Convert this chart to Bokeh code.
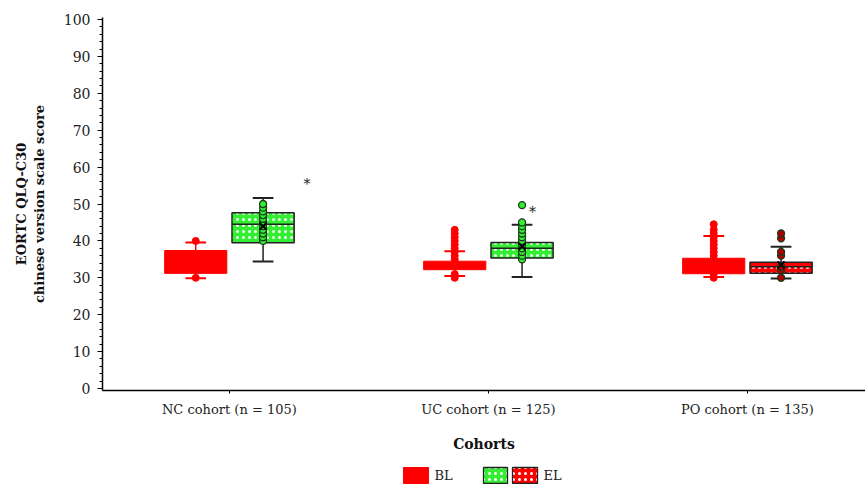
from bokeh.plotting import figure
from bokeh.models import ColumnDataSource, Range1d, FixedTicker
from bokeh.layouts import column
from bokeh.embed import file_html
from bokeh.resources import INLINE
from bokeh.core.properties import value

# ---------------- data ----------------
cohorts = ["NC cohort (n = 105)", "UC cohort (n = 125)", "PO cohort (n = 135)"]
cohort_pos = [1, 2, 3]

bl_low = [29.9, 30.5, 30.2]
bl_q1 = [31.2, 32.2, 31.1]
bl_med = [35.0, 33.5, 33.5]
bl_q3 = [37.4, 34.5, 35.3]
bl_high = [39.6, 37.2, 41.3]

el_low = [34.4, 30.2, 29.8]
el_q1 = [39.5, 35.4, 31.2]
el_med = [44.5, 38.0, 33.0]
el_q3 = [47.6, 39.6, 34.2]
el_high = [51.6, 44.4, 38.4]
el_mean = [44.0, 38.5, 33.5]

bl_points = [
    [30, 40],
    [30, 31, 35, 36, 37, 38, 39, 40, 41, 42, 43],
    [30, 31, 36, 37, 38, 39, 40, 41, 42, 43, 44.5],
]
el_points = [
    [40, 41, 42, 43, 44, 45, 46, 47, 48, 49, 50],
    [35, 36, 37, 38, 39, 40, 41, 42, 43, 44, 45, 49.7],
    [30, 32, 33, 36, 37, 40.7, 42],
]
sig_x = [1.30, 2.17]
sig_y = [55.3, 47.7]

y_ticks = list(range(0, 101, 10))
y_minor = list(range(0, 101, 2))

# ---------------- styles ----------------
RED = "#ff0000"
GREEN = "#33ee33"
FONT = "DejaVu Serif"
BOX_W = 0.24
OFF = 0.13
CAP_W = 0.08

p = figure(width=865, height=464, output_backend="svg", toolbar_location=None,
           x_range=Range1d(0.51, 3.456), y_range=Range1d(-0.54, 100.54),
           min_border_left=102, min_border_right=0, min_border_top=17, min_border_bottom=74)
p.outline_line_color = None
p.xgrid.visible = False
p.ygrid.visible = False

bl_x = [c - OFF for c in cohort_pos]
el_x = [c + OFF for c in cohort_pos]

# BL boxes (red)
src_bl = ColumnDataSource(dict(x=bl_x, lo=bl_low, q1=bl_q1, med=bl_med, q3=bl_q3, hi=bl_high))
p.segment(x0="x", y0="lo", x1="x", y1="hi", source=src_bl, line_color=RED, line_width=1.5)
p.vbar(x="x", width=BOX_W, bottom="q1", top="q3", source=src_bl,
       fill_color=RED, line_color=RED, line_width=1)
for xc, lo, hi in zip(bl_x, bl_low, bl_high):
    p.segment(x0=[xc - CAP_W / 2, xc - CAP_W / 2], x1=[xc + CAP_W / 2, xc + CAP_W / 2],
              y0=[lo, hi], y1=[lo, hi], line_color=RED, line_width=2)

# EL boxes
el_fill = [GREEN, GREEN, RED]
el_pt_fill = [GREEN, GREEN, "#b00000"]
src_el = ColumnDataSource(dict(x=el_x, lo=el_low, q1=el_q1, med=el_med, q3=el_q3,
                               hi=el_high, fill=el_fill))
p.segment(x0="x", y0="lo", x1="x", y1="hi", source=src_el, line_color="#222222", line_width=1.5)
p.vbar(x="x", width=BOX_W, bottom="q1", top="q3", source=src_el,
       fill_color="fill", line_color="#222222", line_width=1.5,
       hatch_pattern="dot", hatch_color="white", hatch_scale=6, hatch_weight=1.0, hatch_alpha=0.9)
p.segment(x0=[x - BOX_W / 2 for x in el_x], x1=[x + BOX_W / 2 for x in el_x],
          y0=el_med, y1=el_med, line_color="#222222", line_width=1.5)
for xc, lo, hi in zip(el_x, el_low, el_high):
    p.segment(x0=[xc - CAP_W / 2, xc - CAP_W / 2], x1=[xc + CAP_W / 2, xc + CAP_W / 2],
              y0=[lo, hi], y1=[lo, hi], line_color="#222222", line_width=2)

# points
for xc, pts in zip(bl_x, bl_points):
    p.scatter(x=[xc] * len(pts), y=pts, size=7, fill_color=RED, line_color=RED, marker="circle")
for xc, pts, fc in zip(el_x, el_points, el_pt_fill):
    p.scatter(x=[xc] * len(pts), y=pts, size=7, fill_color=fc, line_color="#1a3a1a",
              line_width=1.3, marker="circle")
p.scatter(x=el_x, y=el_mean, marker="x", size=10, line_color="black", line_width=2)

# significance marks
p.text(x=sig_x, y=sig_y, text=["*", "*"], text_font=value(FONT), text_font_size="14px",
       text_align="center", text_baseline="middle", text_color="#222222")

# axes
p.yaxis.ticker = FixedTicker(ticks=y_ticks, minor_ticks=y_minor)
p.yaxis.major_tick_in = 0
p.yaxis.major_tick_out = 5
p.yaxis.minor_tick_in = 0
p.yaxis.minor_tick_out = 3
p.yaxis.axis_line_width = 1.5
p.yaxis.major_label_text_font = FONT
p.yaxis.major_label_text_font_size = "14px"
p.yaxis.major_label_text_color = "#222222"
p.yaxis.major_label_standoff = 7
p.yaxis.axis_label = "EORTC QLQ-C30\nchinese version scale score"
p.yaxis.axis_label_text_font = FONT
p.yaxis.axis_label_text_font_style = "bold"
p.yaxis.axis_label_text_font_size = "13px"
p.yaxis.axis_label_text_color = "#111111"
p.yaxis.axis_label_standoff = 14

p.xaxis.ticker = FixedTicker(ticks=cohort_pos, minor_ticks=[])
p.xaxis.major_label_overrides = {c: lbl for c, lbl in zip(cohort_pos, cohorts)}
p.xaxis.major_tick_in = 0
p.xaxis.major_tick_out = 3
p.xaxis.minor_tick_out = 0
p.xaxis.axis_line_width = 1.5
p.xaxis.major_label_text_font = FONT
p.xaxis.major_label_text_font_size = "13px"
p.xaxis.major_label_text_color = "#222222"
p.xaxis.major_label_standoff = 8
p.xaxis.axis_label = "Cohorts"
p.xaxis.axis_label_text_font = FONT
p.xaxis.axis_label_text_font_style = "bold"
p.xaxis.axis_label_text_font_size = "14px"
p.xaxis.axis_label_text_color = "#111111"
p.xaxis.axis_label_standoff = 16

# ---------------- legend figure (frame aligned with main frame: page x 102..865) ----------------
lg = figure(width=865, height=20, output_backend="svg", toolbar_location=None,
            x_range=Range1d(102, 865), y_range=Range1d(0, 20),
            x_axis_type=None, y_axis_type=None,
            min_border_left=102, min_border_right=0, min_border_top=0, min_border_bottom=0)
lg.xgrid.visible = False
lg.ygrid.visible = False
lg.outline_line_color = None
lg.rect(x=[415.5], y=[9], width=25, height=16, fill_color=RED, line_color=RED)
lg.rect(x=[495], y=[9], width=24, height=16, fill_color=GREEN, line_color="#222222", line_width=1.3,
        hatch_pattern="dot", hatch_color="white", hatch_scale=6, hatch_weight=1.0)
lg.rect(x=[524.5], y=[9], width=25, height=16, fill_color=RED, line_color="#222222", line_width=1.3,
        hatch_pattern="dot", hatch_color="white", hatch_scale=6, hatch_weight=1.0)
lg.text(x=[434, 543], y=[9, 9], text=["BL", "EL"], text_font=value(FONT), text_font_size="13px",
        text_baseline="middle", text_color="#222222")

layout = column(p, lg, spacing=0)
open("out.html", "w").write(file_html(layout, INLINE))
